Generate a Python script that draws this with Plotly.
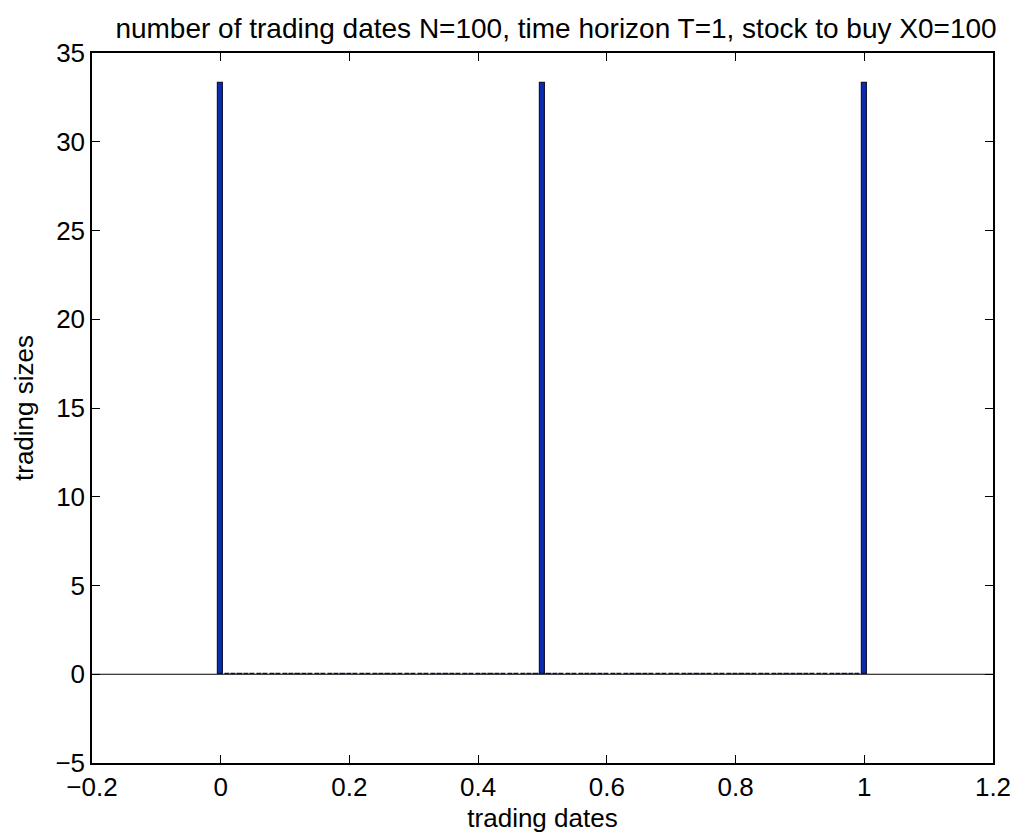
import plotly.graph_objects as go

# Trading schedule: N=100 steps over horizon T=1, total X0=100 shares
trading_dates = [round(0.01 * i, 2) for i in range(101)]
trading_sizes = [33.3333] + [0.0] * 49 + [33.3333] + [0.0] * 49 + [33.3333]

x_ticks = [-0.2, 0, 0.2, 0.4, 0.6, 0.8, 1, 1.2]
x_tick_text = ["\u22120.2", "0", "0.2", "0.4", "0.6", "0.8", "1", "1.2"]
y_ticks = [-5, 0, 5, 10, 15, 20, 25, 30, 35]
y_tick_text = ["\u22125", "0", "5", "10", "15", "20", "25", "30", "35"]

font_family = "Liberation Sans, Arial, Helvetica, sans-serif"

fig = go.Figure()
fig.add_trace(go.Bar(
    x=trading_dates,
    y=trading_sizes,
    width=0.008,
    marker=dict(color="#0a2db0", line=dict(color="#15153a", width=1.2)),
    showlegend=False,
))

# baseline at zero
fig.add_shape(type="line", xref="x", yref="y", x0=-0.2, x1=1.2, y0=0, y1=0,
              line=dict(color="black", width=1.2), layer="above")

axis_common = dict(
    showgrid=False, zeroline=False, showline=True, mirror="allticks",
    linecolor="black", linewidth=1.5, ticks="inside", ticklen=8,
    tickcolor="black", tickwidth=1, automargin=False,
    tickfont=dict(family=font_family, size=26, color="black"),
)

fig.update_layout(
    width=1017, height=837,
    margin=dict(l=92, r=24, t=53, b=74),
    plot_bgcolor="white", paper_bgcolor="white",
    bargap=0,
    title=dict(
        text="number of trading dates N=100, time horizon T=1, stock to buy X0=100",
        font=dict(family=font_family, size=28, color="black"),
        xref="container", x=556 / 1017, xanchor="center",
        yref="container", y=1 - 28 / 837, yanchor="middle",
    ),
    xaxis=dict(range=[-0.2, 1.2], tickvals=x_ticks, ticktext=x_tick_text,
               title=dict(text="trading dates", standoff=8,
                          font=dict(family=font_family, size=26, color="black")),
               **axis_common),
    yaxis=dict(range=[-5, 35], tickvals=y_ticks, ticktext=y_tick_text,
               title=dict(text="trading sizes", standoff=14,
                          font=dict(family=font_family, size=26, color="black")),
               **axis_common),
)

fig.write_html("out.html")
